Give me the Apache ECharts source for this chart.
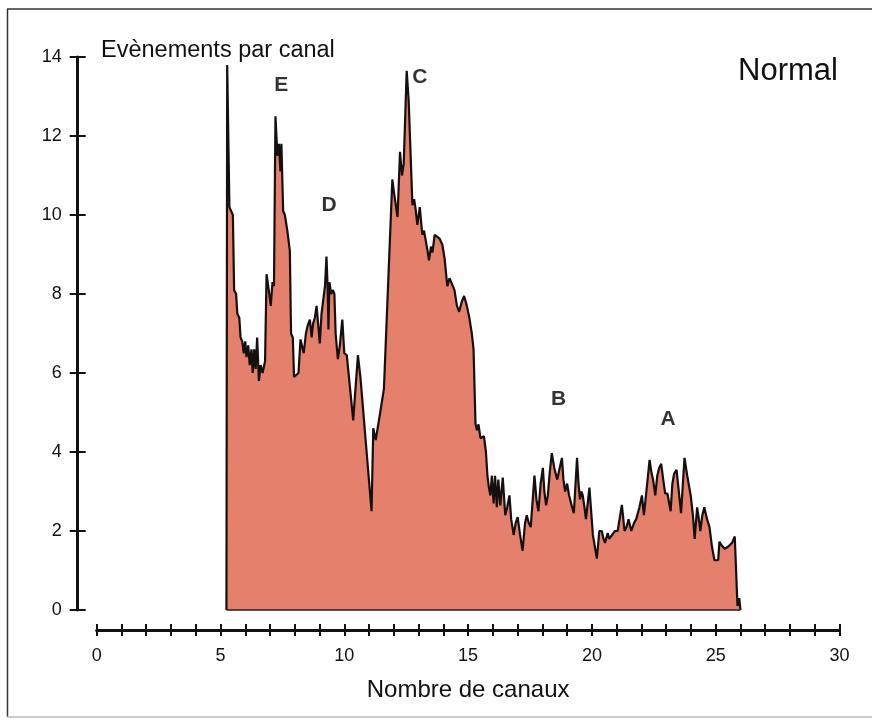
<!DOCTYPE html>
<html>
<head>
<meta charset="utf-8">
<title>Evènements par canal — Normal</title>
<script src="https://cdn.jsdelivr.net/npm/echarts@6.0.0/dist/echarts.min.js"></script>
<style>
  html,body{margin:0;padding:0;background:#fff;}
  #chart{width:872px;height:725px;}
</style>
</head>
<body>
<div id="chart"></div>
<script>
// channel (x) and events per channel (y)
const chanX = [5.24,5.27,5.36,5.50,5.55,5.63,5.68,5.76,5.81,5.88,5.94,6.00,6.05,6.12,6.18,6.25,6.30,6.36,6.42,6.48,
  6.55,6.62,6.70,6.80,6.86,6.95,7.03,7.10,7.16,7.22,7.30,7.36,7.42,7.46,7.53,7.60,7.70,7.80,7.85,7.92,
  7.97,8.15,8.23,8.30,8.36,8.45,8.52,8.61,8.68,8.74,8.81,8.88,8.95,9.01,9.08,9.15,9.22,9.28,9.33,9.36,
  9.40,9.47,9.54,9.60,9.65,9.74,9.82,9.92,10.00,10.10,10.36,10.55,10.65,11.10,11.17,11.27,11.45,11.60,11.94,12.00,
  12.15,12.25,12.33,12.40,12.52,12.60,12.68,12.75,12.82,12.88,12.95,13.05,13.15,13.22,13.29,13.36,13.42,13.50,13.56,13.65,
  13.73,13.85,13.96,14.05,14.16,14.25,14.32,14.45,14.55,14.64,14.74,14.84,14.95,15.05,15.15,15.22,15.30,15.36,15.42,15.50,
  15.58,15.64,15.72,15.78,15.84,15.90,15.96,16.03,16.09,16.16,16.22,16.30,16.40,16.50,16.58,16.67,16.74,16.84,16.92,17.00,
  17.10,17.20,17.30,17.37,17.45,17.53,17.68,17.76,17.84,17.93,18.02,18.08,18.15,18.22,18.30,18.38,18.48,18.60,18.70,18.79,
  18.85,18.92,19.00,19.08,19.18,19.27,19.40,19.46,19.52,19.58,19.63,19.70,19.76,19.90,20.04,20.20,20.30,20.40,20.47,20.53,
  20.64,20.70,20.77,20.93,21.04,21.21,21.32,21.40,21.48,21.59,21.70,21.79,21.92,22.02,22.10,22.20,22.33,22.40,22.47,22.56,
  22.64,22.72,22.80,22.88,22.96,23.05,23.10,23.18,23.25,23.32,23.42,23.50,23.60,23.74,23.85,23.99,24.08,24.15,24.25,24.32,
  24.38,24.46,24.54,24.65,24.75,24.85,24.95,25.10,25.15,25.22,25.29,25.36,25.42,25.50,25.55,25.66,25.77,25.88,25.95,26.00];
const counts = [0,13.8,10.2,10.0,8.1,8.0,7.5,7.4,6.9,6.8,6.5,6.8,6.4,6.7,6.2,6.6,6.0,6.6,6.1,6.9,
  5.8,6.2,6.0,6.3,8.5,8.1,7.7,8.3,8.2,12.5,11.5,11.8,11.1,11.8,10.1,10.0,9.6,9.1,7.0,6.9,
  5.9,6.0,6.85,6.8,6.5,7.0,7.2,7.35,6.9,7.25,7.4,7.7,7.2,6.75,7.5,7.85,8.2,8.95,8.1,7.1,
  8.3,8.0,8.1,8.0,7.0,6.35,6.7,7.35,6.5,6.45,4.8,6.45,5.9,2.5,4.6,4.3,5.0,5.6,10.9,10.6,
  9.95,11.6,11.0,11.3,13.65,12.9,11.5,10.25,10.4,10.15,9.75,10.2,9.5,9.6,9.35,9.1,8.85,9.2,9.05,9.5,
  9.45,9.4,9.25,8.9,8.2,8.4,8.45,8.1,7.7,7.55,7.8,7.95,7.7,7.4,7.0,6.6,4.7,4.55,4.7,4.35,
  4.3,4.4,4.0,3.4,3.1,2.9,3.4,2.7,3.4,2.6,3.3,2.65,3.35,2.4,2.6,2.9,2.3,1.9,2.2,2.35,
  1.9,1.5,2.2,2.4,2.2,2.1,3.4,2.8,2.5,3.2,3.6,3.0,2.65,2.9,3.5,3.97,3.6,3.3,3.6,3.85,
  3.3,3.0,3.2,2.9,2.65,2.45,3.85,3.2,2.8,3.0,2.9,2.6,2.3,3.1,1.9,1.3,2.0,2.0,1.8,1.7,
  1.95,1.8,1.75,2.0,2.0,2.66,2.0,2.1,2.3,2.0,2.2,2.3,2.6,2.9,2.4,3.0,3.8,3.5,3.3,2.9,
  3.4,3.6,3.7,3.3,2.95,2.95,2.9,2.5,3.2,3.45,3.55,3.6,2.45,3.85,3.4,2.9,2.4,1.8,2.6,2.3,
  2.0,2.4,2.6,2.3,2.1,1.6,1.26,1.26,1.73,1.65,1.6,1.55,1.5,1.6,1.6,1.7,1.86,0.1,0.3,0];

// peak letters placed in data space
const peakNames = ['E','D','C','B','A'];
const peakX = [7.45,9.39,13.05,18.65,23.08];
const peakY = [13.28,10.25,13.48,5.34,4.84];

const yTicks = [0,2,4,6,8,10,12,14];
const xLabelStep = 5;

const FONT = 'Liberation Sans, Arial, sans-serif';
const INK = '#111';

const chart = echarts.init(document.getElementById('chart'));

// axes sit away from the plot area: x line below y=0, y line left of x=0
const baseX = {type:'value',min:0,max:30,interval:1,position:'bottom',offset:20,splitLine:{show:false}};
const baseY = {type:'value',min:yTicks[0],max:yTicks[yTicks.length-1],interval:2,position:'left',offset:19,splitLine:{show:false}};

chart.setOption({
  animation:false,
  backgroundColor:'#fff',
  textStyle:{fontFamily:FONT,color:INK},
  grid:{left:96.7,right:32.5,top:57,bottom:115},
  title:[
    {text:'Evènements par canal',left:101,top:39,padding:0,
      textStyle:{fontSize:23.5,fontWeight:'normal',color:INK,fontFamily:FONT}},
    {text:'Normal',left:738,top:56,padding:0,
      textStyle:{fontSize:31,fontWeight:'normal',color:INK,fontFamily:FONT}}
  ],
  xAxis:[
    {...baseX,
      name:'Nombre de canaux',nameLocation:'middle',nameGap:48,
      nameTextStyle:{fontSize:24,color:INK,fontFamily:FONT},
      axisLine:{show:true,onZero:false,lineStyle:{color:INK,width:3}},
      axisTick:{show:true,inside:false,length:6,lineStyle:{color:INK,width:2}},
      axisLabel:{fontSize:18,color:INK,margin:17,fontFamily:FONT,
        formatter:v=>v%xLabelStep===0?String(v):''}},
    {...baseX,
      axisLine:{show:false,onZero:false},
      axisTick:{show:true,inside:true,length:6,lineStyle:{color:INK,width:2}},
      axisLabel:{show:false}}
  ],
  yAxis:[
    {...baseY,
      axisLine:{show:true,onZero:false,lineStyle:{color:INK,width:3}},
      axisTick:{show:true,inside:false,length:8,lineStyle:{color:INK,width:2}},
      axisLabel:{fontSize:18,color:INK,margin:16,fontFamily:FONT}},
    {...baseY,
      axisLine:{show:false,onZero:false},
      axisTick:{show:true,inside:true,length:8,lineStyle:{color:INK,width:2}},
      axisLabel:{show:false}}
  ],
  series:[
    {type:'line',xAxisIndex:0,yAxisIndex:0,
      data:chanX.map((x,i)=>[x,counts[i]]),
      showSymbol:false,smooth:false,
      lineStyle:{color:'#151010',width:2.2},
      areaStyle:{color:'#E4806C',opacity:1},
      // dark base edge under the filled trace
      markLine:{silent:true,symbol:'none',label:{show:false},
        lineStyle:{color:'#2a1a18',width:1.5,type:'solid'},
        data:[[{coord:[chanX[0],0]},{coord:[chanX[chanX.length-1],0]}]]}},
    {type:'scatter',xAxisIndex:0,yAxisIndex:0,
      data:peakNames.map((n,i)=>({name:n,value:[peakX[i],peakY[i]]})),
      symbolSize:0,silent:true,
      label:{show:true,position:'inside',formatter:p=>p.name,
        fontSize:21,fontWeight:'bold',color:'#000',fontFamily:FONT}}
  ],
  graphic:[
    {type:'line',shape:{x1:7.5,y1:9,x2:7.5,y2:717},style:{stroke:'#333',lineWidth:1.5},silent:true},
    {type:'line',shape:{x1:7,y1:9,x2:872,y2:9},style:{stroke:'#333',lineWidth:1.5},silent:true},
    {type:'line',shape:{x1:7,y1:717,x2:872,y2:717},style:{stroke:'#bbb',lineWidth:1.5},silent:true}
  ]
});
</script>
</body>
</html>
